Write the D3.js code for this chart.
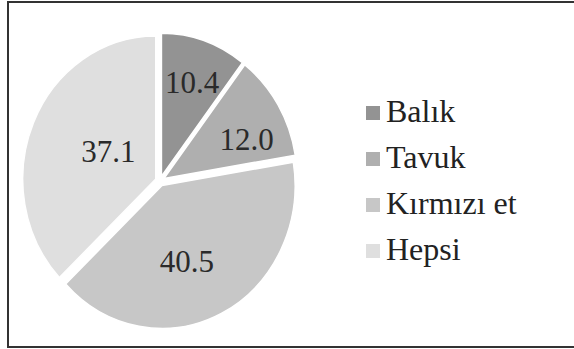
<!DOCTYPE html>
<html>
<head>
<meta charset="utf-8">
<script src="https://cdn.jsdelivr.net/npm/d3@7"></script>
</head>
<body style="margin:0">
<div class="chart"></div>
<script>
// data (percent)
var categories = ['Balık', 'Tavuk', 'Kırmızı et', 'Hepsi']
var values = [10.4, 12.0, 40.5, 37.1]
var valueLabels = ['10.4', '12.0', '40.5', '37.1']

var colors = ['#939393', '#afafaf', '#c7c7c7', '#dfdfdf']
// where each number sits: distance from centre (px) and a small turn off the mid angle (deg)
var labelDist = [105, 102, 85, 63]
var labelTurn = [0.5, 7, 6.5, 5]

var width = 574
var height = 349
var cx = 160
var cy = 181
var radius = 143
var squash = 0.93   // the pie is a bit narrower than tall
var explode = 5

var svg = d3.select('.chart').append('svg')
	.attr('width', width)
	.attr('height', height)

// frame
svg.append('rect')
	.attr('x', 8)
	.attr('y', 2)
	.attr('width', width)
	.attr('height', height - 4)
	.attr('fill', 'none')
	.attr('stroke', '#333')
	.attr('stroke-width', 2)

var pie = d3.pie().sort(null).value(function(d) { return d })
var arcs = pie(values)

var arc = d3.arc().innerRadius(0).outerRadius(radius)

var chart = svg.append('g')
	.attr('transform', 'translate(' + cx + ',' + cy + ') scale(' + squash + ',1)')

chart.selectAll('path')
	.data(arcs)
	.enter().append('path')
	.attr('d', arc)
	.attr('fill', function(d, i) { return colors[i] })
	.attr('stroke', '#fff')
	.attr('stroke-width', 1.5)
	.attr('transform', function(d) {
		var a = (d.startAngle + d.endAngle) / 2
		return 'translate(' + (Math.sin(a) * explode) + ',' + (-Math.cos(a) * explode) + ')'
	})

function labelAngle(d, i) {
	return (d.startAngle + d.endAngle) / 2 + labelTurn[i] * Math.PI / 180
}

// value labels, placed outside the squashed group so the text isn't squeezed
svg.selectAll('.val')
	.data(arcs)
	.enter().append('text')
	.classed('val', true)
	.attr('x', function(d, i) { return cx + Math.sin(labelAngle(d, i)) * labelDist[i] * squash })
	.attr('y', function(d, i) { return cy - Math.cos(labelAngle(d, i)) * labelDist[i] })
	.attr('dy', '0.35em')
	.attr('text-anchor', 'middle')
	.style('font-family', '"Liberation Serif"')
	.attr('font-size', 31)
	.attr('fill', '#2a2a2a')
	.text(function(d, i) { return valueLabels[i] })

// legend
var legend = svg.append('g')
	.attr('transform', 'translate(366,112)')

var item = legend.selectAll('.item')
	.data(categories)
	.enter().append('g')
	.classed('item', true)
	.attr('transform', function(d, i) { return 'translate(0,' + (i * 46) + ')' })

item.append('rect')
	.attr('x', 0)
	.attr('y', -6)
	.attr('width', 14)
	.attr('height', 14)
	.attr('fill', function(d, i) { return colors[i] })

item.append('text')
	.attr('x', 20)
	.attr('y', 10)
	.style('font-family', '"Liberation Serif"')
	.attr('font-size', 32)
	.attr('fill', '#222')
	.text(function(d) { return d })
</script>
</body>
</html>
